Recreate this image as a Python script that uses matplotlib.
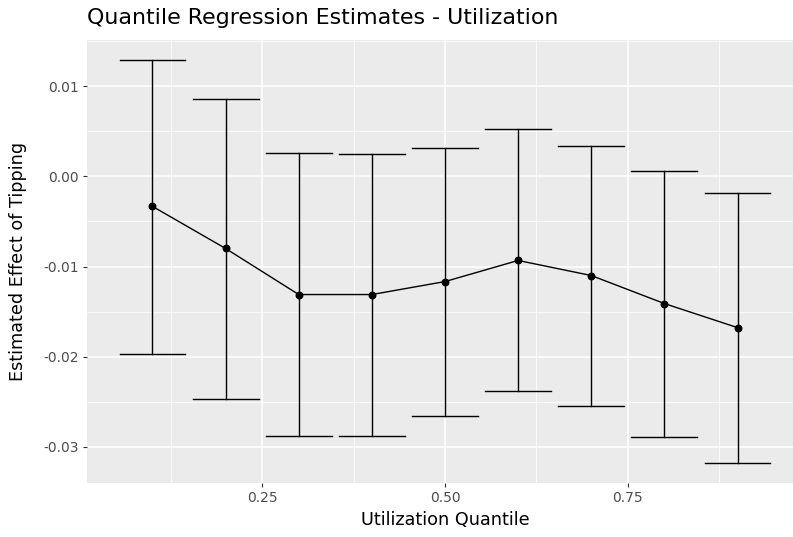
import matplotlib
matplotlib.use("Agg")
import matplotlib.pyplot as plt
import numpy as np

# Quantile regression estimates
quantiles = [0.1, 0.2, 0.3, 0.4, 0.5, 0.6, 0.7, 0.8, 0.9]
estimate = [-0.00333, -0.0080, -0.01311, -0.01311, -0.01167, -0.00933, -0.0110, -0.01411, -0.01678]
upper = [0.01289, 0.00856, 0.00256, 0.00244, 0.00311, 0.00522, 0.00333, 0.00056, -0.00189]
lower = [-0.01967, -0.02467, -0.02878, -0.02878, -0.02656, -0.02378, -0.02544, -0.02889, -0.03178]

x_ticks = [0.25, 0.50, 0.75]
x_ticklabels = ["0.25", "0.50", "0.75"]
y_ticks = [-0.03, -0.02, -0.01, 0.00, 0.01]
y_ticklabels = ["-0.03", "-0.02", "-0.01", "0.00", "0.01"]

bar_w = 0.09  # errorbar cap width in data units (ggplot width)

W, H = 793, 537
fig = plt.figure(figsize=(W / 100, H / 100), dpi=100)
# panel runs from x=87 to beyond the right edge (figure is cropped), y=40..483
left, right, top, bottom = 87, 803, 40, 483
ax = fig.add_axes([left / W, 1 - bottom / H, (right - left) / W, (bottom - top) / H])

ax.set_facecolor("#EBEBEB")
for s in ax.spines.values():
    s.set_visible(False)

# ggplot-like limits (5% expansion)
xlo, xhi = min(quantiles) - bar_w / 2, max(quantiles) + bar_w / 2
ylo, yhi = min(lower), max(upper)
ax.set_xlim(xlo - 0.05 * (xhi - xlo), xhi + 0.05 * (xhi - xlo))
ax.set_ylim(ylo - 0.05 * (yhi - ylo), yhi + 0.05 * (yhi - ylo))

# grid
for v in [0.125, 0.375, 0.625, 0.875]:
    ax.axvline(v, color="white", lw=0.55, zorder=0)
for v in [0.015, 0.005, -0.005, -0.015, -0.025]:
    ax.axhline(v, color="white", lw=0.55, zorder=0)
for v in x_ticks:
    ax.axvline(v, color="white", lw=1.1, zorder=0)
for v in y_ticks:
    ax.axhline(v, color="white", lw=1.1, zorder=0)

# error bars
for q, lo, hi in zip(quantiles, lower, upper):
    ax.plot([q, q], [lo, hi], color="black", lw=1.0, zorder=2)
    ax.plot([q - bar_w / 2, q + bar_w / 2], [hi, hi], color="black", lw=1.0, zorder=2)
    ax.plot([q - bar_w / 2, q + bar_w / 2], [lo, lo], color="black", lw=1.0, zorder=2)

ax.plot(quantiles, estimate, color="black", lw=1.0, zorder=3)
ax.scatter(quantiles, estimate, color="black", s=22, zorder=4)

ax.set_xticks(x_ticks)
ax.set_xticklabels(x_ticklabels)
ax.set_yticks(y_ticks)
ax.set_yticklabels(y_ticklabels)
ax.tick_params(axis="both", length=3.2, width=0.8, color="#333333",
               labelcolor="#4D4D4D", labelsize=10, pad=2.5)

fig.text((left + right) / 2 / W, 1 - 520 / H, "Utilization Quantile",
         fontsize=12.7, color="black", ha="center", va="center")
fig.text(18.5 / W, 1 - (top + bottom) / 2 / H, "Estimated Effect of Tipping",
         fontsize=12.7, color="black", ha="center", va="center", rotation=90)
fig.text(left / W, 1 - 18 / H, "Quantile Regression Estimates - Utilization",
         fontsize=15.9, color="black", ha="left", va="center")

fig.savefig("out.png", dpi=100)
